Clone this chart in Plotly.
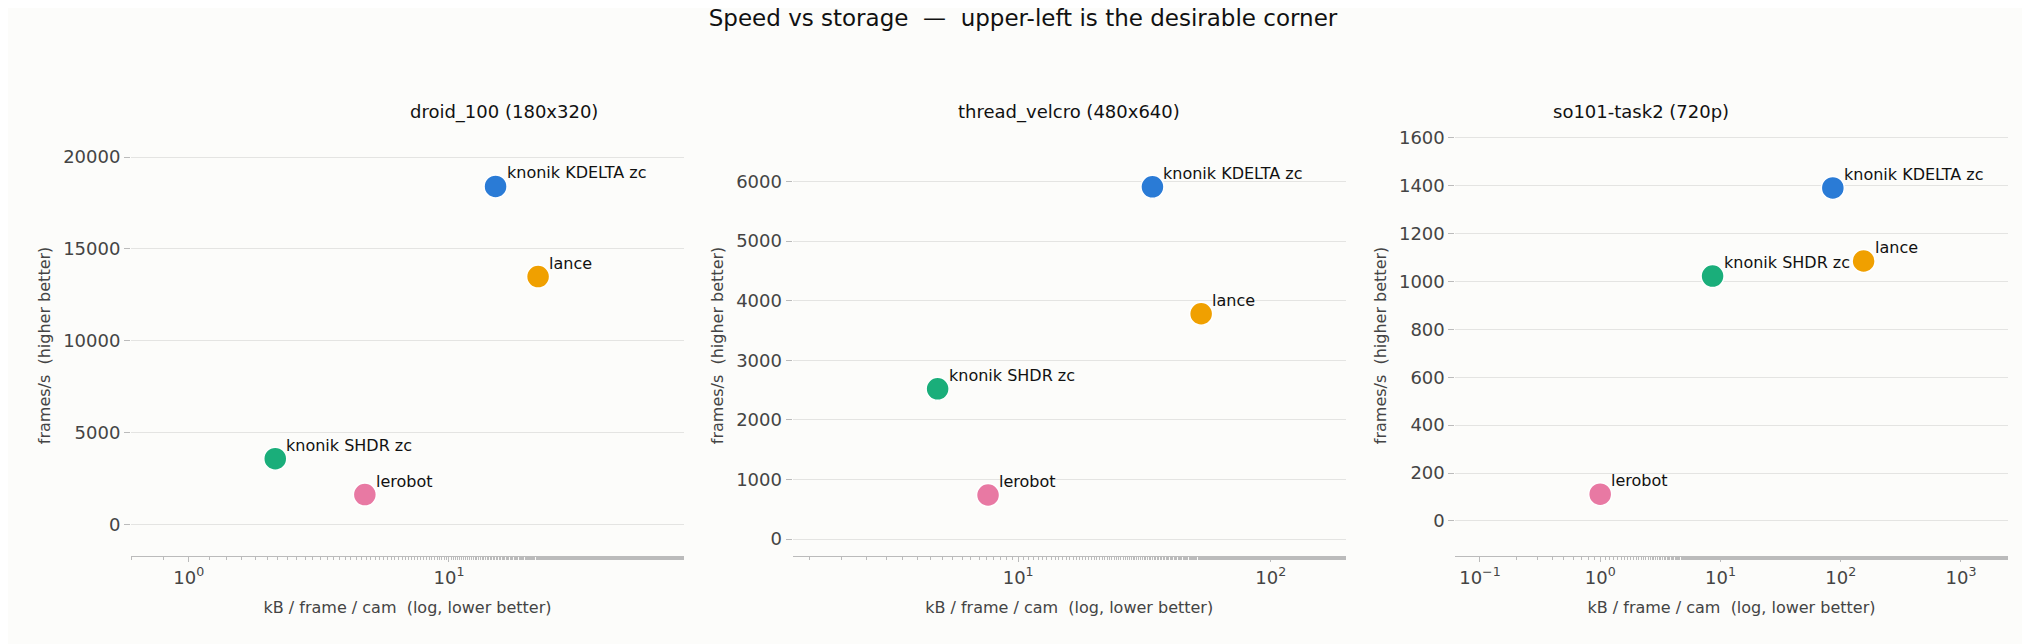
import math
import plotly.graph_objects as go

labels = ["knonik KDELTA zc", "lance", "knonik SHDR zc", "lerobot"]
colors = ["#2a7bd6", "#f0a000", "#1aae7a", "#e879a3"]

panel_titles = ["droid_100 (180x320)", "thread_velcro (480x640)", "so101-task2 (720p)"]
kb_droid = [15.1, 22.0, 2.15, 4.75]
fps_droid = [18400, 13500, 3600, 1650]
kb_thread = [34, 53, 4.8, 7.6]
fps_thread = [5910, 3780, 2520, 740]
kb_so101 = [86, 155, 8.6, 1.0]
fps_so101 = [1390, 1085, 1022, 112]

xtick_vals = [[1, 10], [10, 100], [0.1, 1, 10, 100, 1000]]
xtick_text = [["10<sup>0</sup>", "10<sup>1</sup>"],
              ["10<sup>1</sup>", "10<sup>2</sup>"],
              ["10<sup>−1</sup>", "10<sup>0</sup>", "10<sup>1</sup>", "10<sup>2</sup>", "10<sup>3</sup>"]]

panels = [(kb_droid, fps_droid), (kb_thread, fps_thread), (kb_so101, fps_so101)]
xranges = [(0.60, 80), (1.28, 198), (0.0625, 2440)]
yranges = [(-1690, 21200), (-283, 6780), (-146, 1611)]
ydticks = [5000, 1000, 200]
xdomains = [(0.0606, 0.333), (0.3865, 0.659), (0.713, 0.985)]
ydomain = (0.151, 0.813)

fig = go.Figure()
annotations = []
for i, ((xs, ys), title) in enumerate(zip(panels, panel_titles)):
    n = "" if i == 0 else str(i + 1)
    fig.add_trace(go.Scatter(
        x=xs, y=ys, mode="markers", xaxis="x" + n, yaxis="y" + n,
        marker=dict(size=23, color=colors, line=dict(width=1.5, color="white")),
        hoverinfo="skip", showlegend=False))
    for x, y, lab in zip(xs, ys, labels):
        annotations.append(dict(x=math.log10(x), y=y, xref="x" + n, yref="y" + n,
                                text=lab, showarrow=False, xanchor="left", yanchor="bottom",
                                xshift=9, yshift=2, font=dict(size=16, color="#111")))
    cx = (xdomains[i][0] + xdomains[i][1]) / 2
    annotations.append(dict(x=cx, y=0.869, xref="paper", yref="paper", text=title,
                            showarrow=False, font=dict(size=18, color="#111")))
    fig.layout["xaxis" + n] = dict(
        type="log", domain=xdomains[i], anchor="y" + n,
        range=[math.log10(xranges[i][0]), math.log10(xranges[i][1])],
        tickvals=xtick_vals[i], ticktext=xtick_text[i], showgrid=False, zeroline=False,
        showline=True, linecolor="#bbb", ticks="outside", tickcolor="#bbb",
        minor=dict(ticks="outside", ticklen=3, tickcolor="#bbb", showgrid=False),
        tickfont=dict(size=18, color="#444"),
        title=dict(text="kB / frame / cam  (log, lower better)", font=dict(size=16, color="#444")))
    fig.layout["yaxis" + n] = dict(
        domain=ydomain, anchor="x" + n, range=list(yranges[i]), dtick=ydticks[i],
        tickformat="d", showgrid=True, gridcolor="#e4e4e2", zeroline=False, showline=False,
        ticks="outside", tickcolor="#bbb", ticklen=6,
        tickfont=dict(size=18, color="#444"),
        title=dict(text="frames/s  (higher better)", font=dict(size=16, color="#444"), standoff=8))

fig.update_layout(
    width=2030, height=644, margin=dict(l=0, r=0, t=0, b=0),
    paper_bgcolor="#fcfcfa", plot_bgcolor="#fcfcfa",
    font=dict(family="DejaVu Sans"),
    title=dict(text="Speed vs storage  —  upper-left is the desirable corner",
               x=0.5, y=0.985, yanchor="middle", font=dict(size=23, color="#111")),
    annotations=annotations)

fig.write_html("out.html")
